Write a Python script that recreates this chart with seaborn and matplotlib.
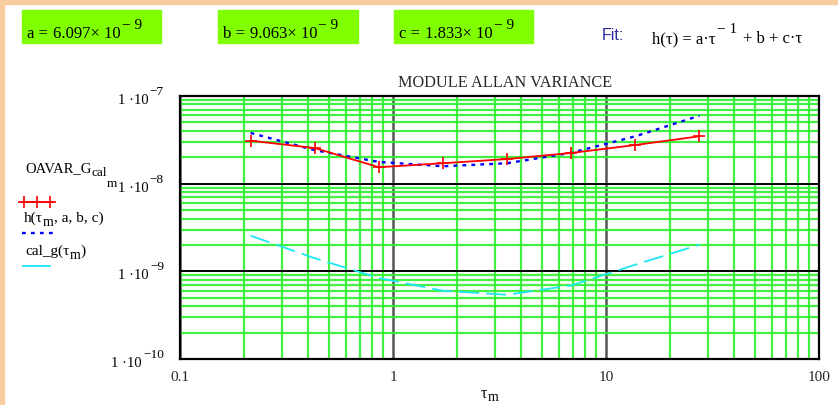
import numpy as np
import pandas as pd
import matplotlib
matplotlib.use("Agg")
import matplotlib.pyplot as plt
import seaborn as sns
from matplotlib.patches import Rectangle
from matplotlib.lines import Line2D
from matplotlib.ticker import LogLocator, NullFormatter

# averaging times and the measured / fitted / calibration Allan variances
tau_m = [0.2145, 0.429, 0.858, 1.716, 3.432, 6.864, 13.73, 27.46]
oavar = [3.09e-8, 2.55e-8, 1.54e-8, 1.71e-8, 1.91e-8, 2.24e-8, 2.76e-8, 3.47e-8]
h_fit = [3.79e-8, 2.41e-8, 1.77e-8, 1.58e-8, 1.71e-8, 2.25e-8, 3.47e-8, 5.96e-8]
cal_g = [2.55e-9, 1.41e-9, 8.4e-10, 6.0e-10, 5.4e-10, 6.9e-10, 1.19e-9, 2.01e-9]

coef_names = ["a", "b", "c"]
coef_mant = ["6.097", "9.063", "1.833"]
coef_exp = "9"

x_ticks = [0.1, 1, 10, 100]
x_tick_labels = ["0.1", "1", "10", "100"]
y_exps = ["7", "8", "9", "10"]

W, H = 838, 406
SERIF = "Liberation Serif"
SANS = "Liberation Sans"

sns.set_style("white")
plt.rcParams["font.family"] = [SERIF, "DejaVu Serif"]

fig = plt.figure(figsize=(W / 100, H / 100), dpi=100)
fig.patch.set_facecolor("white")

# peach frame strips along the top and left edges
peach = "#facda0"
fig.patches.append(Rectangle((0, 1 - 5 / H), 1, 5 / H, transform=fig.transFigure,
                             color=peach, zorder=0))
fig.patches.append(Rectangle((0, 0), 3.5 / W, 1, transform=fig.transFigure,
                             color=peach, zorder=0))


def px(x, y):
    return x / W, 1 - y / H


renderer = fig.canvas.get_renderer()


def rich(x, y, parts, ha="left", family=SERIF, color="black"):
    """Draw a run of text pieces; each piece is (text, size, rise, gap_after)."""
    arts = []
    cx = x
    for text, size, rise, gap in parts:
        t = fig.text(*px(cx, y - rise), text, fontsize=size, family=family,
                     color=color, va="baseline", ha="left")
        bb = t.get_window_extent(renderer)
        arts.append((t, rise))
        cx = bb.x1 + gap
    if ha == "right":
        shift = cx - x
        for t, rise in arts:
            fx, fy = t.get_position()
            t.set_position((fx - shift / W, fy))
    return arts


# coefficient boxes
boxes = [(22, 161), (218, 358), (394, 533)]
for (x0, x1), name, mant in zip(boxes, coef_names, coef_mant):
    fig.patches.append(Rectangle(px(x0, 44), (x1 - x0) / W, 33 / H,
                                 transform=fig.transFigure, color="#80ff00", zorder=1))
    rich(x0 + 5, 38, [(f"{name} =", 12, 0, 5), (f"{mant}\u00d7 10", 12, 0, 1),
                      ("\u2212 " + coef_exp, 11, 9, 0)])

fig.text(*px(602, 40), "Fit:", fontsize=11.5, family=SANS, color="#2b2b9e",
         va="baseline")
rich(652, 43, [("h(\u03c4) = a\u00b7\u03c4", 12, 0, 1), ("\u2212 1", 11, 10, 6),
               ("+ b + c\u00b7\u03c4", 12, 0, 0)])

# main axes
ax = fig.add_axes([180 / W, 1 - 360 / H, (819 - 180) / W, (360 - 97) / H])
ax.set_xscale("log")
ax.set_yscale("log")
ax.set_xlim(0.1, 100)
ax.set_ylim(1e-10, 1e-7)

ax.xaxis.set_minor_locator(LogLocator(base=10, subs=np.arange(2, 10), numticks=20))
ax.yaxis.set_minor_locator(LogLocator(base=10, subs=np.arange(2, 10), numticks=20))
ax.xaxis.set_minor_formatter(NullFormatter())
ax.yaxis.set_minor_formatter(NullFormatter())
ax.grid(which="minor", color="#2ef02e", lw=1.6, alpha=0.9)
ax.grid(axis="x", which="major", color="#555555", lw=1.8)
ax.grid(axis="y", which="major", color="black", lw=1.4)
ax.set_axisbelow(True)
ax.tick_params(which="both", length=0)

ax.set_xticks(x_ticks)
ax.set_xticklabels(x_tick_labels, fontsize=11, family=SERIF)
ax.tick_params(axis="x", pad=8)
ax.set_yticks([1e-7, 1e-8, 1e-9, 1e-10])
ax.set_yticklabels([])
for s in ax.spines.values():
    s.set_color("black")
    s.set_linewidth(1.6)

sns.lineplot(x=tau_m, y=h_fit, ax=ax, color="#0000ff", lw=1.7,
             linestyle=(0, (1.6, 2.2)), sort=False, zorder=3)
sns.lineplot(x=tau_m, y=oavar, ax=ax, color="#ff0000", lw=1.3, marker="+",
             markersize=9, markeredgewidth=1.2, markeredgecolor="#ff0000",
             sort=False, zorder=4)
sns.lineplot(x=tau_m, y=cal_g, ax=ax, color="#1fe6f5", lw=1.3,
             linestyle=(0, (11, 4)), sort=False, zorder=3)

fig.text(*px(505, 87), "MODULE ALLAN VARIANCE", fontsize=11.7, family=SERIF,
         ha="center", va="baseline")

# y tick labels of the form 1·10^-n
for i, e in enumerate(y_exps):
    ypix = 97 + i * (263 / 3)
    rich(164, ypix + 7, [("1 \u00b710", 10.5, 0, 1), ("\u2212" + e, 9.5, 9, 0)],
         ha="right")

# legend entries
rich(25, 172, [("OAVAR_G", 10.5, 0, 0), ("cal", 9.5, -4, 0), ("m", 9.5, -15, 0)])
fig.add_artist(Line2D([22 / W, 53 / W], [1 - 203 / H] * 2, color="#ff0000", lw=1.3,
                      transform=fig.transFigure))
fig.add_artist(Line2D([24 / W, 37 / W, 50 / W], [1 - 203 / H] * 3, color="#ff0000",
                      lw=0, marker="+", markersize=9, markeredgewidth=1.2,
                      transform=fig.transFigure))
rich(24, 222, [("h(\u03c4", 11, 0, 0), ("m", 10, -4, 0), (", a, b, c)", 11, 0, 0)])
fig.add_artist(Line2D([22 / W, 53 / W], [1 - 234 / H] * 2, color="#0000ff", lw=1.7,
                      linestyle=(0, (1.6, 2.2)), transform=fig.transFigure))
rich(25, 255, [("cal_g(\u03c4", 11, 0, 0), ("m", 10, -4, 0), (")", 11, 0, 0)])
fig.add_artist(Line2D([22 / W, 53 / W], [1 - 267 / H] * 2, color="#1fe6f5", lw=1.3,
                      linestyle=(0, (16, 5)), transform=fig.transFigure))

# x axis label
rich(481, 398, [("\u03c4", 11.5, 0, 0), ("m", 10, -3, 0)])

fig.savefig("out.png", dpi=100, facecolor="white")
